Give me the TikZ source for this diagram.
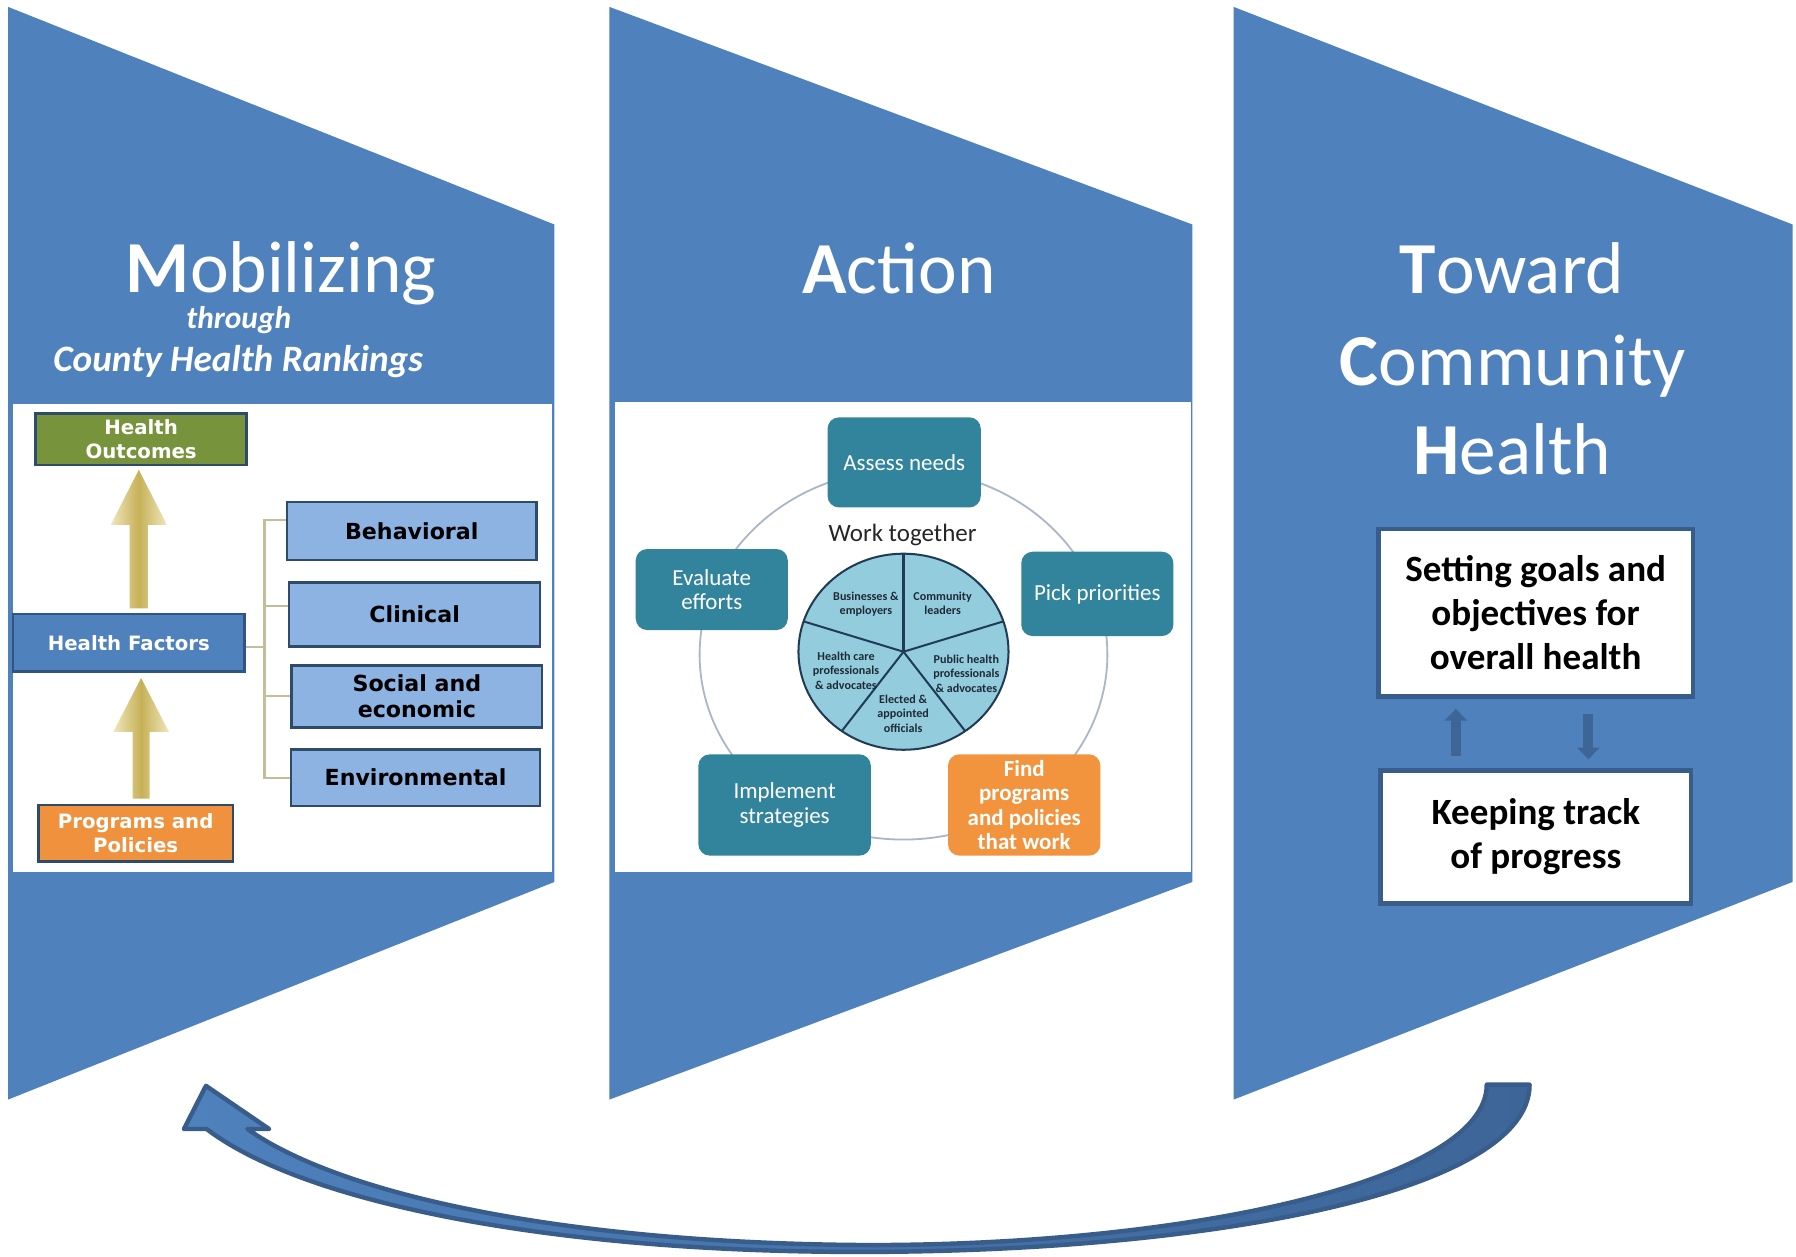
\documentclass[tikz,border=0pt]{standalone}
\usepackage{fontspec}
\setmainfont{Carlito}
\newfontfamily\heavy{DejaVu Sans}
\usetikzlibrary{calc,arrows.meta}
\definecolor{chevblue}{HTML}{4F81BD}
\definecolor{lborder}{HTML}{2E4B6B}
\definecolor{hfborder}{HTML}{2F5585}
\definecolor{hogreen}{HTML}{77933C}
\definecolor{pporange}{HTML}{F0913D}
\definecolor{lblue}{HTML}{8DB3E2}
\definecolor{brkcol}{HTML}{C4BD97}
\definecolor{goldl}{HTML}{EFE7BC}
\definecolor{goldd}{HTML}{C6B057}
\definecolor{tealbox}{HTML}{31849B}
\definecolor{findorange}{HTML}{F2943E}
\definecolor{piefill}{HTML}{93CDDD}
\definecolor{piedark}{HTML}{1F3B55}
\definecolor{ringgray}{HTML}{A9B7C6}
\definecolor{rborder}{HTML}{385D8A}
\definecolor{sarrow}{HTML}{3D6595}
\definecolor{carrowR}{HTML}{3D6598}
\definecolor{wtgray}{HTML}{262626}
\definecolor{pietext}{HTML}{1F2A36}
\begin{document}
\begin{tikzpicture}[x=0.01cm,y=-0.01cm,
  ttl/.style={text=white,font=\fontsize{18.2}{22.5}\selectfont,inner sep=0,anchor=base},
  sub/.style={text=white,inner sep=0,anchor=base},
  lbox/.style={draw=lborder,line width=0.65pt,inner sep=0,align=center,text=white,font=\heavy\bfseries\fontsize{4.9}{6}\selectfont},
  fbox/.style={lbox,fill=lblue,text=black,font=\heavy\bfseries\fontsize{5.5}{6.5}\selectfont},
  brk/.style={draw=brkcol,line width=0.6pt},
  gold/.style={left color=goldl,right color=goldl,middle color=goldd},
  ring/.style={draw=ringgray,line width=0.45pt},
  pie/.style={fill=piefill,draw=piedark,line width=0.5pt},
  piel/.style={draw=piedark,line width=0.5pt},
  pietxt/.style={inner sep=0,align=center,text=pietext,font=\bfseries\fontsize{3.0}{3.56}\selectfont},
  tbox/.style={rounded corners=0.1cm,fill=tealbox,text=white,inner sep=0,align=center,font=\fontsize{5.7}{6}\selectfont},
  rbox/.style={draw=rborder,fill=white,line width=1.15pt,inner sep=0,align=center,font=\bfseries\fontsize{9.2}{10.95}\selectfont},
  sarr/.style={draw=sarrow,line width=2.5pt,-{Triangle[width=5.4pt,length=2.9pt]}},
  carrow/.style={left color=chevblue,right color=carrowR,draw=rborder,line width=1.1pt,line join=round}
]
\useasboundingbox (0,0) rectangle (1568,1097);
\fill[white] (0,0) rectangle (1568,1097);

% chevrons
\fill[chevblue] (7,6) -- (484,196) -- (484,770) -- (7,960) -- cycle;
\fill[chevblue] (532,6) -- (1041,196) -- (1041,770) -- (532,960) -- cycle;
\fill[chevblue] (1077,6) -- (1565,196) -- (1565,770) -- (1077,960) -- cycle;

% titles
\node[ttl] (mob) at (245.5,255.8) {\textbf{M}obilizing};
\node[sub,font=\bfseries\itshape\fontsize{7.8}{9}\selectfont] (thr) at (208.5,287) {through};
\node[sub,font=\bfseries\itshape\fontsize{9.25}{11}\selectfont] (chr) at (208,324.5) {County Health Rankings};
\node[ttl] (act) at (785,256) {\textbf{A}ction};
\node[ttl] (tow) at (1320,256) {\textbf{T}oward};
\node[ttl] (com) at (1321,337) {\textbf{C}ommunity};
\node[ttl] (hea) at (1320.5,414.7) {\textbf{H}ealth};

% left panel
\fill[white] (11,353) rectangle (482,761);
\node[lbox,fill=hogreen,minimum width=1.84cm,minimum height=0.45cm] (ho) at (123.2,383.5) {Health\\Outcomes};
\node[lbox,fill=chevblue,draw=hfborder,minimum width=2.02cm,minimum height=0.50cm] (hf) at (112.5,561.2) {Health Factors};
\node[lbox,fill=pporange,minimum width=1.70cm,minimum height=0.495cm] (pp) at (118.4,727.5) {Programs and\\Policies};
\node[fbox,minimum width=2.18cm,minimum height=0.506cm] (beh) at (359.5,463.6) {Behavioral};
\node[fbox,minimum width=2.19cm,minimum height=0.56cm] (cli) at (362,536.5) {Clinical};
\node[fbox,minimum width=2.185cm,minimum height=0.544cm] (soc) at (364,608.1) {Social and\\economic};
\node[fbox,minimum width=2.174cm,minimum height=0.495cm] (env) at (362.8,679) {Environmental};

% bracket
\draw[brk] (beh.west |- 0,454) -- (231,454) -- (231,679) -- (env.west |- 0,679);
\draw[brk] (231,529) -- (cli.west |- 0,529);
\draw[brk] (231,607.7) -- (soc.west |- 0,607.7);
\draw[brk] (hf.east |- 0,565) -- (231,565);

% gold arrows
\coordinate (a1t) at ($(ho.south)+(-2,3)$);
\coordinate (a1b) at ($(a1t |- hf.north)+(0,-4)$);
\shade[gold] (a1t) -- ++(24.5,48) -- ++(-16.5,0) -- ($(a1b)+(8,0)$) -- ($(a1b)+(-8,0)$) -- ($(a1t)+(-8,48)$) -- ++(-16.5,0) -- cycle;
\coordinate (a2t) at ($(hf.south)+(10.7,4.6)$);
\coordinate (a2b) at ($(a2t |- pp.north)+(0,-4.3)$);
\shade[gold] (a2t) -- ++(24.3,47) -- ++(-16.8,0) -- ($(a2b)+(7.5,0)$) -- ($(a2b)+(-7.5,0)$) -- ($(a2t)+(-7.5,47)$) -- ++(-16.8,0) -- cycle;

% middle panel
\fill[white] (537,351) rectangle (1040,761);
\draw[ring] (788.8,571.5) ellipse [x radius=178, y radius=161.5];
\coordinate (pc) at (788.8,569);
\filldraw[pie] (pc) ellipse [x radius=91.7, y radius=85.6];
\draw[piel] (pc) -- (788.8,483.4);
\draw[piel] (pc) -- (876.0,542.5);
\draw[piel] (pc) -- (842.7,638.3);
\draw[piel] (pc) -- (734.9,638.3);
\draw[piel] (pc) -- (701.6,542.5);
\node[pietxt] (p1) at (756,527.5) {Businesses \&\\employers};
\node[pietxt] (p2) at (823,527) {Community\\leaders};
\node[pietxt] (p3) at (843.7,588) {Public health\\professionals\\\& advocates};
\node[pietxt] (p4) at (738.6,585.5) {Health care\\professionals\\\& advocates};
\node[pietxt] (p5) at (788.5,623) {Elected \&\\appointed\\officials};
\node[inner sep=0,anchor=base,text=wtgray,font=\fontsize{6.2}{7}\selectfont] (wt) at (788,473) {Work together};

\node[tbox,minimum width=1.337cm,minimum height=0.786cm] (as) at (789.4,403.7) {Assess needs};
\node[tbox,minimum width=1.327cm,minimum height=0.707cm] (ev) at (621.4,514.7) {Evaluate\\efforts};
\node[tbox,minimum width=1.327cm,minimum height=0.736cm] (pk) at (958,518.5) {Pick priorities};
\node[tbox,minimum width=1.505cm,minimum height=0.884cm] (im) at (685,702.8) {Implement\\strategies};
\node[tbox,fill=findorange,font=\bfseries\fontsize{5.7}{6}\selectfont,minimum width=1.33cm,minimum height=0.884cm] (fd) at (894.2,702.8) {Find\\programs\\and policies\\that work};

% right panel
\node[rbox,minimum width=2.745cm,minimum height=1.46cm] (g1) at (1340.7,534.8) {Setting goals and\\objectives for\\overall health};
\node[rbox,minimum width=2.71cm,minimum height=1.16cm] (g2) at (1340.9,730.5) {Keeping track\\of progress};
\draw[sarr] ($(g2.north -| 1271,0)+(0,-10)$) -- ($(g1.south -| 1271,0)+(0,9)$);
\draw[sarr] ($(g1.south -| 1386.7,0)+(0,13.6)$) -- ($(g2.north -| 1386.7,0)+(0,-7.5)$);

% curved return arrow
\shadedraw[carrow] (1335.4,947) .. controls (1335.4,1040) and (1060,1093) .. (750,1093)
  .. controls (480,1093) and (265,1050) .. (180.4,985.7)
  -- (160.6,985.7) -- (179.8,948) -- (235,985.7) -- (216,985.7)
  .. controls (300,1045) and (500,1086) .. (760,1087)
  .. controls (1040,1087) and (1298,1030) .. (1298,947) -- cycle;
\end{tikzpicture}
\end{document}
